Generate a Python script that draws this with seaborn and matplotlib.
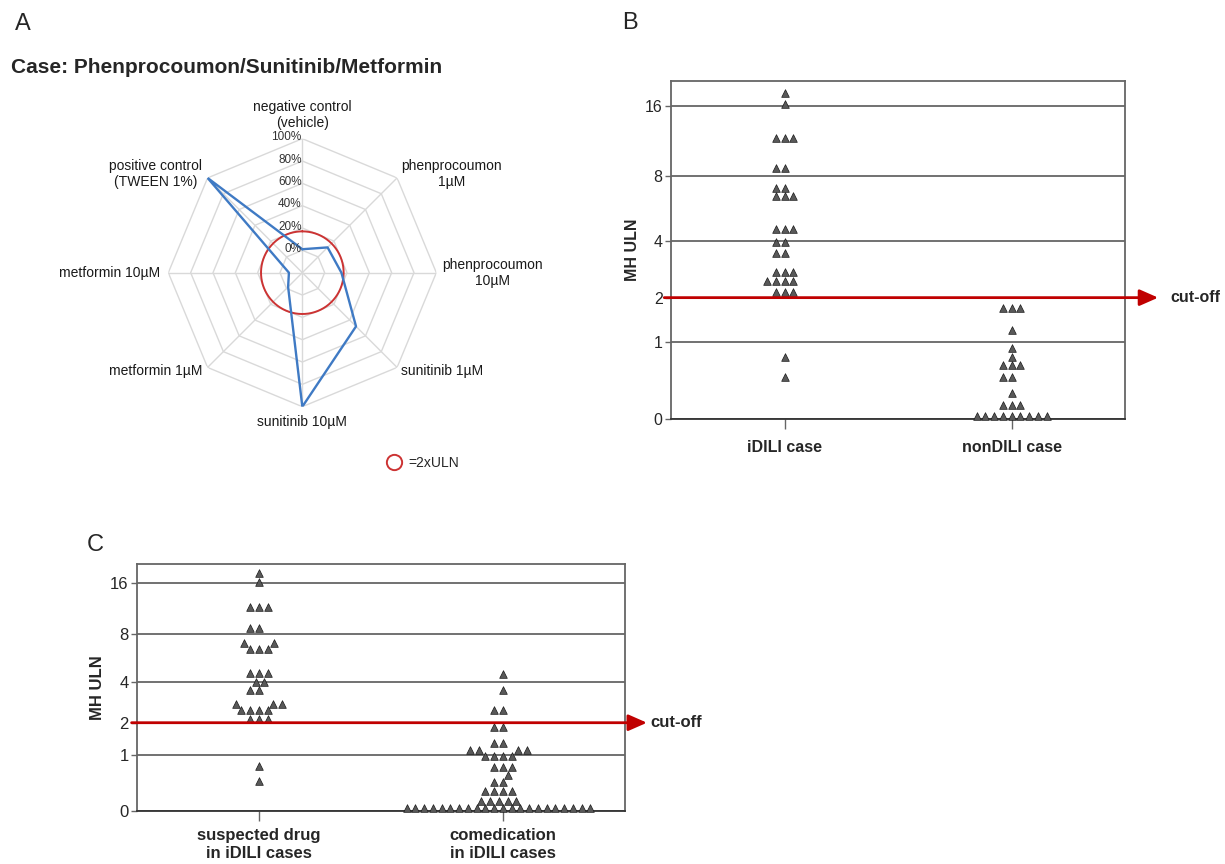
import matplotlib.pyplot as plt
import matplotlib.transforms as mtransforms
import numpy as np
import pandas as pd
import seaborn as sns
from matplotlib.lines import Line2D

# ---- Panel A: cytotoxicity radar (% effect), clockwise from the top ----
radar_labels = [
    "negative control\n(vehicle)",
    "phenprocoumon\n1µM",
    "phenprocoumon\n10µM",
    "sunitinib 1µM",
    "sunitinib 10µM",
    "metformin 1µM",
    "metformin 10µM",
    "positive control\n(TWEEN 1%)",
]
radar_values = [1, 12, 15, 48, 100, -2, -8, 100]
radar_rings = [0, 20, 40, 60, 80, 100]
radar_min = -20
uln_level = 17

# ---- Panel B: MH ULN per case ----
idili_values = [
    18.2, 16.3,
    11.7, 11.7, 11.7,
    8.7, 8.7,
    7.1, 7.1,
    6.5, 6.5, 6.5,
    4.6, 4.6, 4.6,
    3.95, 3.95,
    3.5, 3.5,
    2.8, 2.8, 2.8,
    2.5, 2.5, 2.5, 2.5,
    2.15, 2.15, 2.15,
    0.76, 0.46,
]
nondili_values = [
    1.74, 1.74, 1.74,
    1.24,
    0.9,
    0.76,
    0.63, 0.63, 0.63,
    0.46, 0.46,
    0.27,
    0.135, 0.135, 0.135,
    0.03, 0.03, 0.03, 0.03, 0.03, 0.03, 0.03, 0.03, 0.03,
]

# ---- Panel C: suspected drug vs comedication ----
suspected_values = idili_values
comedication_values = [
    4.5,
    3.5,
    2.5, 2.5,
    1.86, 1.86,
    1.34, 1.34,
    1.13, 1.13, 1.13, 1.13,
    0.99, 0.99, 0.99, 0.99,
    0.74, 0.74, 0.74,
    0.56,
    0.43, 0.43,
    0.28, 0.28, 0.28, 0.28,
    0.14, 0.14, 0.14, 0.14, 0.14,
    0.04, 0.04, 0.04, 0.04, 0.04, 0.04, 0.04, 0.04, 0.04, 0.04, 0.04,
    0.04, 0.04, 0.04, 0.04, 0.04, 0.04, 0.04, 0.04, 0.04, 0.04, 0.04,
]

b_groups = ["iDILI case", "nonDILI case"]
c_groups = ["suspected drug\nin iDILI cases", "comedication\nin iDILI cases"]
y_ticks = [0, 1, 2, 4, 8, 16]
cutoff = 2

RED = "#c00000"
GRID = "#666666"


def forward(y):
    return np.log2(np.maximum(y, -0.99) + 1)


def inverse(y):
    return np.power(2.0, y) - 1


def draw_swarm_panel(ax, frame, order, marker_size, font_size, top,
                     arrow_start, arrow_tip, text_x, label_x, x_pad):
    """Swarm of MH ULN values on a log2(x+1) axis with the cut-off arrow."""
    ax.set_yscale("function", functions=(forward, inverse))
    sns.swarmplot(
        data=frame,
        x="group",
        y="mhuln",
        order=order,
        ax=ax,
        marker="^",
        size=marker_size,
        color="#595959",
        edgecolor="#1a1a1a",
        linewidth=0.5,
        clip_on=False,
        zorder=4,
    )
    ax.set_xlim(-0.5, 1.5)
    ax.set_ylim(0, top)
    ax.set_yticks(y_ticks, [str(t) for t in y_ticks])
    ax.set_xlabel("")
    ax.set_ylabel("MH ULN", fontsize=font_size, fontweight="bold")
    ax.yaxis.set_label_coords(label_x, 0.5)

    ax.grid(axis="y", color=GRID, linewidth=1.3)
    ax.grid(axis="x", visible=False)
    ax.set_axisbelow(True)
    for spine in ax.spines.values():
        spine.set_visible(True)
        spine.set_color(GRID)
        spine.set_linewidth(1.3)
    ax.spines["bottom"].set_color("#333333")

    ax.tick_params(axis="y", length=4, width=1, color=GRID,
                   labelsize=font_size, pad=2, left=True)
    ax.tick_params(axis="x", length=7, width=1, color=GRID,
                   labelsize=font_size, pad=x_pad, bottom=True)
    for label in ax.get_xticklabels():
        label.set_fontweight("bold")
        label.set_linespacing(1.3)

    trans = mtransforms.blended_transform_factory(ax.transAxes, ax.transData)
    ax.annotate(
        "",
        xy=(arrow_tip, cutoff),
        xytext=(arrow_start, cutoff),
        xycoords=trans,
        textcoords=trans,
        annotation_clip=False,
        zorder=5,
        arrowprops=dict(
            arrowstyle="-|>,head_length=0.75,head_width=0.33",
            color=RED,
            lw=2,
            shrinkA=0,
            shrinkB=0,
            mutation_scale=15,
        ),
    )
    ax.text(text_x, cutoff, "cut-off", transform=trans, ha="left",
            va="center", fontsize=font_size, fontweight="bold")


sns.set_theme(style="white")
plt.rcParams["font.family"] = ["Liberation Sans", "DejaVu Sans"]

fig = plt.figure(figsize=(12.25, 8.64), dpi=100)

# ---------------- Panel A ----------------
ax_a = fig.add_axes([0.1374, 0.5293, 0.2188, 0.3102], projection="polar")
ax_a.set_theta_zero_location("N")
ax_a.set_theta_direction(-1)
ax_a.set_ylim(radar_min, 100)

angles = np.linspace(0, 2 * np.pi, len(radar_labels), endpoint=False)
closed_angles = np.append(angles, angles[0])

for ring in radar_rings:
    ax_a.plot(closed_angles, [ring] * len(closed_angles),
              color="#d9d9d9", lw=1, zorder=1)
for angle in angles:
    ax_a.plot([angle, angle], [radar_min, 100], color="#d9d9d9", lw=1, zorder=1)

circle_theta = np.linspace(0, 2 * np.pi, 240)
ax_a.plot(circle_theta, np.full_like(circle_theta, uln_level),
          color="#cc3333", lw=1.4, zorder=2)
ax_a.plot(closed_angles, radar_values + radar_values[:1],
          color="#3f7ac4", lw=1.7, zorder=3)

ax_a.grid(False)
ax_a.set_xticks([])
ax_a.set_yticks([])
ax_a.spines["polar"].set_visible(False)

for ring in radar_rings:
    ax_a.annotate(f"{ring}%", xy=(0, ring), xytext=(-0.5, 1),
                  textcoords="offset points", ha="right", va="center",
                  fontsize=8.5, color="#333333")

label_layout = [
    ((0, 6), "center", "bottom"),
    ((3, 3), "left", "center"),
    ((4, 0), "left", "center"),
    ((3, -2.5), "left", "center"),
    ((0, -11), "center", "center"),
    ((-4, -2.5), "right", "center"),
    ((-6, 0), "right", "center"),
    ((-4, 3), "right", "center"),
]
for angle, text, (offset, ha, va) in zip(angles, radar_labels, label_layout):
    ax_a.annotate(text, xy=(angle, 100), xytext=offset,
                  textcoords="offset points", ha=ha, va=va,
                  multialignment="center", fontsize=10, color="#1a1a1a",
                  annotation_clip=False)

fig.legend(
    handles=[Line2D([], [], marker="o", linestyle="none", markersize=11,
                    markerfacecolor="none", markeredgecolor="#cc3333",
                    markeredgewidth=1.4, label="=2xULN")],
    loc="center left",
    bbox_to_anchor=(0.3159, 0.4641),
    frameon=False,
    fontsize=10,
    handlelength=1.0,
    handletextpad=0.55,
    borderpad=0,
    borderaxespad=0,
)

fig.text(0.0122, 1 - 30 / 864, "A", fontsize=17, va="baseline")
fig.text(0.0087, 1 - 73 / 864, "Case: Phenprocoumon/Sunitinib/Metformin",
         fontsize=15, fontweight="bold", va="baseline")

# ---------------- Panel B ----------------
b_frame = pd.DataFrame({
    "group": [b_groups[0]] * len(idili_values) + [b_groups[1]] * len(nondili_values),
    "mhuln": idili_values + nondili_values,
})
ax_b = fig.add_axes([0.5478, 0.5150, 0.3706, 0.3912])
draw_swarm_panel(ax_b, b_frame, b_groups, marker_size=5.5, font_size=11.5,
                 top=20.3, arrow_start=-0.015, arrow_tip=1.073,
                 text_x=1.100, label_x=-0.068, x_pad=8)
fig.text(0.5078, 1 - 29 / 864, "B", fontsize=17, va="baseline")

# ---------------- Panel C ----------------
c_frame = pd.DataFrame({
    "group": [c_groups[0]] * len(suspected_values)
    + [c_groups[1]] * len(comedication_values),
    "mhuln": suspected_values + comedication_values,
})
ax_c = fig.add_axes([0.1118, 0.0613, 0.3984, 0.2859])
draw_swarm_panel(ax_c, c_frame, c_groups, marker_size=5.5, font_size=12,
                 top=20.6, arrow_start=-0.011, arrow_tip=1.045,
                 text_x=1.053, label_x=-0.066, x_pad=5)
fig.text(0.0710, 1 - 551 / 864, "C", fontsize=17, va="baseline")

fig.savefig("out.png", dpi=100)
plt.close(fig)
